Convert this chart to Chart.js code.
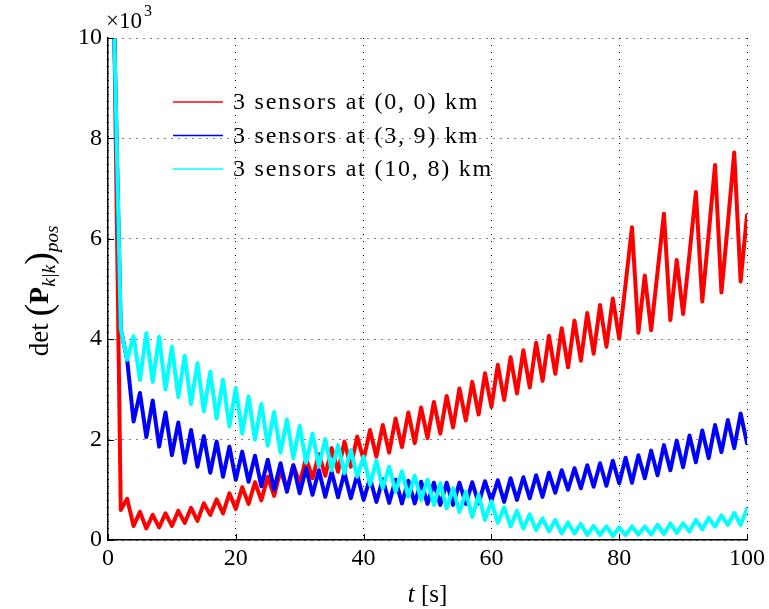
<!DOCTYPE html>
<html>
<head>
<meta charset="utf-8">
<title>det P k|k pos</title>
<script src="https://cdn.jsdelivr.net/npm/chart.js"></script>
<style>
  html, body { margin: 0; padding: 0; background: #fff; }
  #wrap { width: 769px; height: 609px; }
</style>
</head>
<body>
<div id="wrap"><canvas id="detChart" width="769" height="609"></canvas></div>
<script>
// time steps [s]
const times = [
  1,2,3,4,5,6,7,8,9,10, 11,12,13,14,15,16,17,18,19,20,
  21,22,23,24,25,26,27,28,29,30, 31,32,33,34,35,36,37,38,39,40,
  41,42,43,44,45,46,47,48,49,50, 51,52,53,54,55,56,57,58,59,60,
  61,62,63,64,65,66,67,68,69,70, 71,72,73,74,75,76,77,78,79,80,
  81,82,83,84,85,86,87,88,89,90, 91,92,93,94,95,96,97,98,99,100
];

const seriesNames = ['3 sensors at (0, 0) km', '3 sensors at (3, 9) km', '3 sensors at (10, 8) km'];
const seriesColors = ['#ff0000', '#0000ff', '#00ffff'];

// det(P) values
const sensors00 = [
  10000,600,820,280,560,230,500,250,530,280,
  580,340,640,380,730,500,810,530,930,620,
  1050,720,1150,790,1260,880,1390,1000,1490,1130,
  1630,1230,1710,1280,1830,1360,1960,1460,2060,1600,
  2190,1660,2290,1740,2420,1850,2540,1930,2640,2030,
  2750,2120,2870,2240,3020,2380,3150,2500,3320,2650,
  3490,2790,3640,2920,3780,3040,3930,3170,4070,3310,
  4220,3440,4370,3570,4520,3710,4680,3850,4810,4010,
  5100,6230,4130,5270,4180,5340,6500,4380,5580,4500,
  5700,6930,4750,6100,7470,4930,6300,7720,5150,6470
];
const sensors39 = [
  10000,4200,3590,2360,2930,2050,2780,1860,2540,1690,
  2340,1540,2190,1460,2070,1340,1960,1260,1860,1200,
  1760,1160,1680,1070,1600,1000,1530,960,1490,930,
  1430,900,1390,860,1360,850,1340,830,1300,800,
  1230,760,1210,740,1200,730,1180,730,1160,720,
  1140,700,1140,700,1140,720,1150,730,1170,780,
  1190,760,1230,800,1250,830,1290,860,1340,940,
  1390,1000,1430,1030,1490,1060,1530,1080,1580,1130,
  1640,1140,1690,1230,1780,1290,1890,1390,1980,1450,
  2080,1550,2180,1630,2290,1750,2390,1830,2520,1930
];
const sensors108 = [
  10000,4200,3590,4060,3190,4120,3150,4050,3000,3850,
  2850,3670,2710,3520,2560,3350,2420,3190,2260,3030,
  2120,2860,2000,2710,1880,2550,1740,2400,1630,2270,
  1540,2120,1470,2010,1390,1890,1330,1790,1260,1660,
  1100,1580,1030,1460,960,1370,860,1280,800,1200,
  700,1130,630,1030,560,960,460,900,400,770,
  340,650,270,580,230,510,200,430,170,400,
  130,350,130,320,100,280,100,270,80,250,
  100,270,110,270,110,300,120,330,140,330,
  170,400,210,440,270,490,300,540,300,620
];

const xTicks = [0, 20, 40, 60, 80, 100];
const yTicks = [0, 2000, 4000, 6000, 8000, 10000];

const SERIF = '"Liberation Serif", "DejaVu Serif", serif';

function toPoints(vals) {
  return vals.map((v, i) => ({ x: times[i], y: v }));
}

// draw a run of text pieces with different fonts / offsets, centred on cx
function drawRuns(ctx, runs, cx, cy) {
  let total = 0;
  runs.forEach(r => { ctx.font = r.font; r.w = ctx.measureText(r.text).width; total += r.w; });
  let px = cx - total / 2;
  runs.forEach(r => {
    ctx.font = r.font;
    ctx.fillText(r.text, px, cy + (r.dy || 0));
    px += r.w;
  });
}

const overlay = {
  id: 'overlay',
  afterDraw(chart) {
    const { ctx, chartArea: a, scales: { x, y } } = chart;
    ctx.save();

    // inward tick marks (matlab style)
    ctx.strokeStyle = '#000';
    ctx.lineWidth = 1;
    ctx.beginPath();
    yTicks.forEach(v => {
      const py = Math.round(y.getPixelForValue(v)) + 0.5;
      ctx.moveTo(a.left, py); ctx.lineTo(a.left + 6, py);
    });
    xTicks.forEach(v => {
      const px = Math.round(x.getPixelForValue(v)) + 0.5;
      ctx.moveTo(px, a.bottom); ctx.lineTo(px, a.bottom - 6);
    });
    ctx.stroke();

    // legend inside the plot
    ctx.fillStyle = '#000';
    ctx.textBaseline = 'middle';
    ctx.textAlign = 'left';
    chart.data.datasets.forEach((ds, i) => {
      const ly = 102 + i * 33.5;
      ctx.strokeStyle = ds.borderColor;
      ctx.lineWidth = 1.5;
      ctx.beginPath();
      ctx.moveTo(173, ly); ctx.lineTo(223, ly);
      ctx.stroke();
      ctx.font = '24px ' + SERIF;
      ctx.letterSpacing = '1.8px';
      ctx.fillText(ds.label, 233, ly + 1);
      ctx.letterSpacing = '0px';
    });

    // x10^3 exponent
    ctx.textBaseline = 'alphabetic';
    ctx.font = '23px ' + SERIF;
    ctx.fillText('\u00d710', a.left - 2, 28);
    ctx.font = '16px ' + SERIF;
    ctx.fillText('3', a.left + 36, 16);

    // x title
    drawRuns(ctx, [
      { text: 't', font: 'italic 25px ' + SERIF },
      { text: ' [s]', font: '25px ' + SERIF }
    ], (a.left + a.right) / 2, 602);

    // y title, rotated
    ctx.translate(48, 291);
    ctx.rotate(-Math.PI / 2);
    drawRuns(ctx, [
      { text: 'det ', font: '27px ' + SERIF },
      { text: '(', font: '38px ' + SERIF, dy: 3 },
      { text: 'P', font: 'bold 28px ' + SERIF },
      { text: 'k|k', font: 'italic 19px ' + SERIF, dy: 7 },
      { text: ')', font: '38px ' + SERIF, dy: 3 },
      { text: 'pos', font: 'italic 19px ' + SERIF, dy: 10 }
    ], 0, 0);

    ctx.restore();
  }
};

const ctx = document.getElementById('detChart').getContext('2d');
const chart = new Chart(ctx, {
  type: 'line',
  data: {
    datasets: [
      { label: seriesNames[0], data: toPoints(sensors00), borderColor: seriesColors[0], order: 2 },
      { label: seriesNames[1], data: toPoints(sensors39), borderColor: seriesColors[1], order: 1 },
      { label: seriesNames[2], data: toPoints(sensors108), borderColor: seriesColors[2], order: 0 }
    ]
  },
  options: {
    responsive: false,
    animation: false,
    devicePixelRatio: 1,
    layout: { padding: { top: 38, right: 21, left: 0, bottom: 0 } },
    elements: {
      line: { borderWidth: 4, tension: 0, borderJoinStyle: 'round', borderCapStyle: 'round', fill: false },
      point: { radius: 0, hoverRadius: 0 }
    },
    plugins: {
      legend: { display: false },
      tooltip: { enabled: false },
      title: { display: false }
    },
    scales: {
      x: {
        type: 'linear',
        min: 0, max: 100,
        afterFit: s => { s.height = 69; },
        afterBuildTicks: s => { s.ticks = xTicks.map(v => ({ value: v })); },
        ticks: { color: '#000', font: { family: SERIF, size: 24 }, padding: 4, maxRotation: 0 },
        grid: { color: '#000', lineWidth: 1, drawTicks: false },
        border: { display: true, color: '#000', width: 1.5, dash: [1, 6] }
      },
      y: {
        min: 0, max: 10000,
        afterFit: s => { s.width = 108; },
        afterBuildTicks: s => { s.ticks = yTicks.map(v => ({ value: v })); },
        ticks: {
          color: '#000', font: { family: SERIF, size: 24 }, padding: 6,
          callback: v => String(v / 1000)
        },
        grid: { color: '#000', lineWidth: 1, drawTicks: false },
        border: { display: true, color: '#000', width: 1.5, dash: [1, 6] }
      }
    }
  },
  plugins: [overlay]
});
</script>
</body>
</html>
